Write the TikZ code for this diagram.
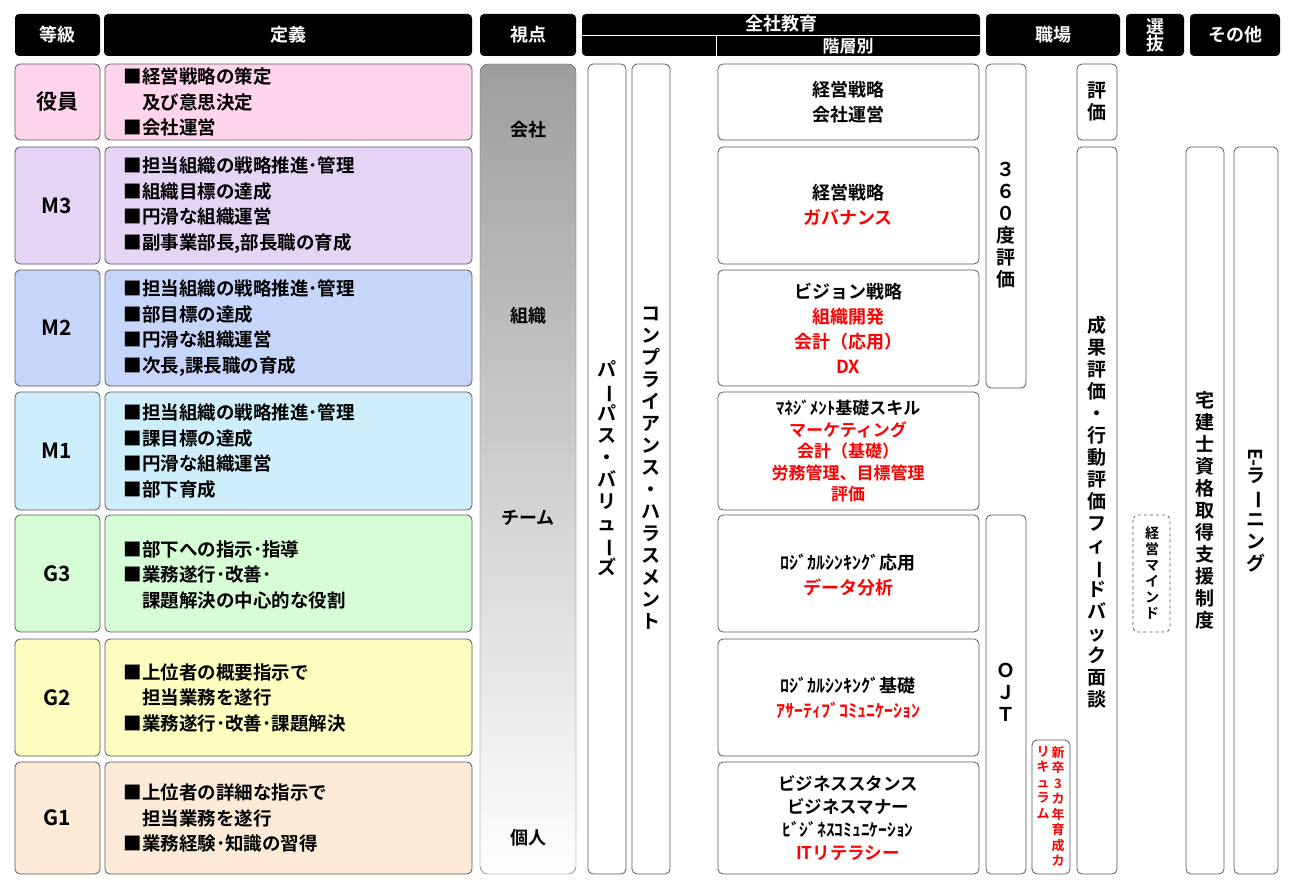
\documentclass[tikz,border=0pt]{standalone}
\usepackage{fontspec}
\setmainfont{Noto Sans CJK JP}[BoldFont={* Bold}]
\newcommand\vbar{\rotatebox[origin=c]{-90}{ー}}
\begin{document}
\begin{tikzpicture}[x=1pt,y=-1pt,
  hd/.style={fill=black,rounded corners=4pt,text=white,font=\fontsize{18}{19}\selectfont\bfseries},
  bx/.style={draw=black!65,line width=0.8pt,rounded corners=5pt},
  txt/.style={font=\fontsize{18}{25}\selectfont\bfseries,align=center},
  vt/.style={font=\fontsize{19}{22}\selectfont\bfseries,align=center},
  rd/.style={text=red}]
\useasboundingbox (0,0) rectangle (1304,888);
\definecolor{cY}{HTML}{FFD5EC}\definecolor{cM3}{HTML}{E6D4F5}\definecolor{cM2}{HTML}{C6D6FB}
\definecolor{cM1}{HTML}{CEEEFC}\definecolor{cG3}{HTML}{D7FDD6}\definecolor{cG2}{HTML}{FDFDBF}\definecolor{cG1}{HTML}{FDEBD7}
% headers
\fill[hd] (15,14) rectangle (100,56); \node[hd,fill=none] (h1) at (57,35) {等級};
\fill[hd] (104,14) rectangle (472,56); \node[hd,fill=none] (h2) at (288,35) {定義};
\fill[hd] (480,14) rectangle (576,56); \node[hd,fill=none] (h3) at (528,35) {視点};
\fill[hd] (582,14) rectangle (980,56); \node[hd,fill=none] (h4) at (781,24) {全社教育};
\draw[white,line width=0.8pt] (582,35) -- (980,35) (716,35) -- (716,56);
\node[hd,fill=none,font=\fontsize{17}{18}\selectfont\bfseries] (h4b) at (848,46) {階層別};
\fill[hd] (986,14) rectangle (1120,56); \node[hd,fill=none] (h5) at (1053,35) {職場};
\fill[hd] (1126,14) rectangle (1184,56); \node[hd,fill=none,align=center,font=\fontsize{18}{17}\selectfont\bfseries] (h6) at (1155,35) {選\\抜};
\fill[hd] (1190,14) rectangle (1280,56); \node[hd,fill=none] (h7) at (1235,35) {その他};
% rows
\foreach \t/\b/\c/\g [count=\i] in {64/140/cY/役員,147/264/cM3/M3,270/386/cM2/M2,392/510/cM1/M1,515/632/cG3/G3,639/756/cG2/G2,762/874/cG1/G1}{
  \draw[bx,fill=\c] (15,\t) rectangle (100,\b);
  \node[font=\fontsize{21}{22}\selectfont\bfseries] (g\i) at (57,{(\t+\b)/2}) {\g};
  \draw[bx,fill=\c] (105,\t) rectangle (472,\b);
  \draw[bx,fill=white] (718,\t) rectangle (979,\b);
}
\tikzset{df/.style={anchor=west,font=\fontsize{18.5}{25.5}\selectfont\bfseries,align=left}}
\node[df] (d1) at (120,102) {■経営戦略の策定\\\quad 及び意思決定\\■会社運営};
\node[df] (d2) at (120,205) {■担当組織の戦略推進･管理\\■組織目標の達成\\■円滑な組織運営\\■副事業部長,部長職の育成};
\node[df] (d3) at (120,328) {■担当組織の戦略推進･管理\\■部目標の達成\\■円滑な組織運営\\■次長,課長職の育成};
\node[df] (d4) at (120,451) {■担当組織の戦略推進･管理\\■課目標の達成\\■円滑な組織運営\\■部下育成};
\node[df] (d5) at (120,575) {■部下への指示･指導\\■業務遂行･改善･\\\quad 課題解決の中心的な役割};
\node[df] (d6) at (120,698) {■上位者の概要指示で\\\quad 担当業務を遂行\\■業務遂行･改善･課題解決};
\node[df] (d7) at (120,818) {■上位者の詳細な指示で\\\quad 担当業務を遂行\\■業務経験･知識の習得};
% viewpoint
\shade[top color=black!38,bottom color=white,rounded corners=8pt,draw=black!65] (480,64) rectangle (576,874);
\node[txt] (v1) at (528,130) {会社};
\node[txt] (v2) at (528,316) {組織};
\node[txt] (v3) at (528,518) {チーム};
\node[txt] (v4) at (528,838) {個人};
% long bars
\draw[bx] (588,64) rectangle (626,874);
\node[vt] (pp) at (607,468) {パ\\\vbar\\パ\\ス\\・\\バ\\リ\\ュ\\\vbar\\ズ};
\draw[bx] (632,64) rectangle (670,874);
\node[vt] (cp) at (651,468) {コ\\ン\\プ\\ラ\\イ\\ア\\ン\\ス\\・\\ハ\\ラ\\ス\\メ\\ン\\ト};
% level contents
\node[txt] (l1) at (848,102) {経営戦略\\会社運営};
\node[txt] (l2) at (848,205) {経営戦略\\\textcolor{red}{ガバナンス}};
\node[txt] (l3) at (848,328) {ビジョン戦略\\\textcolor{red}{組織開発}\\\textcolor{red}{会計（応用）}\\\textcolor{red}{DX}};
\node[txt,font=\fontsize{17}{21.5}\selectfont\bfseries] (l4) at (848,451) {ﾏﾈｼﾞﾒﾝﾄ基礎スキル\\\textcolor{red}{マーケティング}\\\textcolor{red}{会計（基礎）}\\\textcolor{red}{労務管理、目標管理}\\\textcolor{red}{評価}};
\node[txt] (l5) at (848,575) {ﾛｼﾞｶﾙｼﾝｷﾝｸﾞ応用\\\textcolor{red}{データ分析}};
\node[txt] (l6) at (848,698) {ﾛｼﾞｶﾙｼﾝｷﾝｸﾞ基礎\\\textcolor{red}{ｱｻｰﾃｨﾌﾞｺﾐｭﾆｹｰｼｮﾝ}};
\node[txt,font=\fontsize{17.5}{23}\selectfont\bfseries] (l7) at (848,818) {ビジネススタンス\\ビジネスマナー\\ﾋﾞｼﾞﾈｽｺﾐｭﾆｹｰｼｮﾝ\\\textcolor{red}{ITリテラシー}};
% workplace
\draw[bx] (986,64) rectangle (1026,388);
\node[vt] (s360) at (1006,225) {３\\６\\０\\度\\評\\価};
\draw[bx] (986,515) rectangle (1026,874);
\node[vt] (ojt) at (1006,692) {Ｏ\\Ｊ\\Ｔ};
\draw[bx] (1032,740) rectangle (1070,874);
\node[vt,font=\fontsize{13}{15.5}\selectfont\bfseries,text=red,anchor=north,inner sep=0pt] (nr) at (1058,746) {新\\卒\\3\\カ\\年\\育\\成\\カ};
\node[vt,font=\fontsize{13}{15.5}\selectfont\bfseries,text=red,anchor=north,inner sep=0pt] (nl) at (1043,746) {リ\\キ\\ュ\\ラ\\ム};
\draw[bx] (1077,64) rectangle (1117,140);
\node[vt] (hk) at (1097,102) {評\\価};
\draw[bx] (1077,147) rectangle (1117,874);
\node[vt] (fb) at (1097,512) {成\\果\\評\\価\\・\\行\\動\\評\\価\\フ\\ィ\\\vbar\\ド\\バ\\ッ\\ク\\面\\談};
% selection
\draw[bx,dashed] (1133,515) rectangle (1170,632);
\node[vt,font=\fontsize{14}{16}\selectfont\bfseries] (km) at (1152,573) {経\\営\\マ\\イ\\ン\\ド};
% others
\draw[bx] (1186,147) rectangle (1224,874);
\node[vt] (tk) at (1205,510) {宅\\建\\士\\資\\格\\取\\得\\支\\援\\制\\度};
\draw[bx] (1234,147) rectangle (1278,874);
\node[vt] (el) at (1256,510) {\rotatebox{-90}{E-}\\ラ\\\vbar\\ニ\\ン\\グ};
\end{tikzpicture}
\end{document}
